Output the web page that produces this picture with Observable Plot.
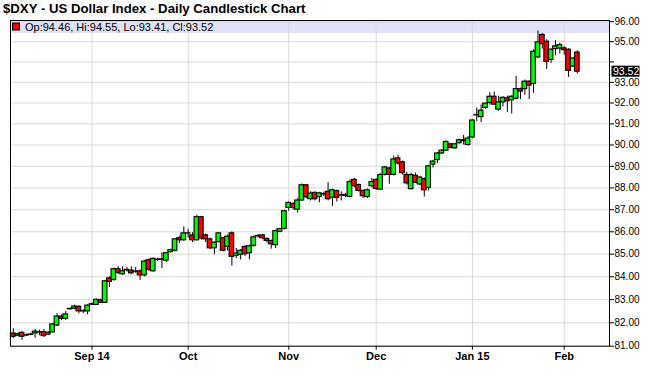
<!DOCTYPE html>
<html><head><meta charset="utf-8">
<script src="https://cdn.jsdelivr.net/npm/d3@7"></script>
<script src="https://cdn.jsdelivr.net/npm/@observablehq/plot@0.6"></script>
<style>
body{margin:0;background:#fff;font-family:"Liberation Sans",Arial,sans-serif;}
#title{height:16px;line-height:16px;padding:1px 0 0 3px;box-sizing:border-box;font-weight:bold;font-size:13.2px;color:#000;white-space:nowrap;overflow:visible;}
#chart svg g[aria-label="x-axis tick label"]{font-weight:bold;}
</style></head><body>
<div id="title"></div>
<div id="chart"></div>
<script>
const title = "$DXY - US Dollar Index - Daily Candlestick Chart";

const dates = [
"2014-08-06","2014-08-07","2014-08-08","2014-08-11","2014-08-12","2014-08-13","2014-08-14","2014-08-15","2014-08-18","2014-08-19",
"2014-08-20","2014-08-21","2014-08-22","2014-08-25","2014-08-26","2014-08-27","2014-08-28","2014-08-29",
"2014-09-01","2014-09-02","2014-09-03","2014-09-04","2014-09-05","2014-09-08","2014-09-09","2014-09-10","2014-09-11","2014-09-12",
"2014-09-15","2014-09-16","2014-09-17","2014-09-18","2014-09-19","2014-09-22","2014-09-23","2014-09-24","2014-09-25","2014-09-26",
"2014-09-29","2014-09-30",
"2014-10-01","2014-10-02","2014-10-03","2014-10-06","2014-10-07","2014-10-08","2014-10-09","2014-10-10","2014-10-13","2014-10-14",
"2014-10-15","2014-10-16","2014-10-17","2014-10-20","2014-10-21","2014-10-22","2014-10-23","2014-10-24","2014-10-27","2014-10-28",
"2014-10-29","2014-10-30","2014-10-31",
"2014-11-03","2014-11-04","2014-11-05","2014-11-06","2014-11-07","2014-11-10","2014-11-11","2014-11-12","2014-11-13","2014-11-14",
"2014-11-17","2014-11-18","2014-11-19","2014-11-20","2014-11-21","2014-11-24","2014-11-25","2014-11-26","2014-11-27","2014-11-28",
"2014-12-01","2014-12-02","2014-12-03","2014-12-04","2014-12-05","2014-12-08","2014-12-09","2014-12-10","2014-12-11","2014-12-12",
"2014-12-15","2014-12-16","2014-12-17","2014-12-18","2014-12-19","2014-12-22","2014-12-23","2014-12-24","2014-12-26","2014-12-29",
"2014-12-30","2014-12-31",
"2015-01-02","2015-01-05","2015-01-06","2015-01-07","2015-01-08","2015-01-09","2015-01-12","2015-01-13","2015-01-14","2015-01-15",
"2015-01-16","2015-01-19","2015-01-20","2015-01-21","2015-01-22","2015-01-23","2015-01-26","2015-01-27","2015-01-28","2015-01-29",
"2015-01-30",
"2015-02-02","2015-02-03","2015-02-04","2015-02-05"
];

const open = [
81.54,81.44,81.57,81.47,81.48,81.54,81.58,81.60,81.49,81.59,
81.88,82.26,82.17,82.58,82.61,82.69,82.49,82.49,
82.78,82.77,82.97,82.86,83.93,83.86,84.33,84.11,84.28,84.27,
84.22,84.24,84.06,84.73,84.24,84.74,84.75,84.71,85.09,85.15,
85.71,85.62,
85.93,85.84,85.62,86.66,85.84,85.66,85.26,85.54,85.71,85.32,
85.93,84.92,84.97,85.32,85.04,85.37,85.79,85.84,85.68,85.59,
85.40,86.00,86.13,
87.08,87.26,87.00,87.42,88.12,87.48,87.77,87.58,87.72,87.82,
87.55,87.85,87.66,87.63,87.58,88.37,88.13,87.86,87.58,88.08,
88.37,87.92,88.60,88.90,88.60,89.37,89.19,88.60,87.94,88.56,
88.16,88.41,88.00,89.08,89.29,89.60,89.73,90.03,89.84,90.08,
90.22,90.00,
90.35,91.40,91.32,91.76,92.00,92.30,91.68,92.03,92.22,92.13,
92.20,92.67,92.67,93.03,92.92,94.22,95.34,95.00,94.10,94.63,
94.66,
94.67,94.60,93.77,94.46
];
const high = [
81.74,81.56,81.62,81.52,81.55,81.71,81.68,81.71,81.62,81.97,
82.39,82.34,82.49,82.63,82.76,82.73,82.56,82.78,
82.85,83.03,83.02,83.84,84.00,84.38,84.45,84.44,84.41,84.44,
84.41,84.30,84.72,84.78,84.83,84.82,85.06,85.08,85.22,85.70,
85.81,86.22,
86.10,85.96,86.75,86.70,85.90,85.72,85.55,85.97,85.75,85.85,
86.00,85.25,85.20,85.38,85.40,85.80,85.88,85.88,85.72,85.62,
86.08,86.15,86.98,
87.36,87.32,87.50,88.18,88.15,87.82,87.82,87.80,87.80,88.24,
87.94,87.90,87.82,87.75,88.37,88.44,88.18,87.90,87.95,88.44,
88.42,88.65,89.00,88.95,89.48,89.52,89.25,88.71,88.68,88.68,
88.52,88.45,89.05,89.28,89.65,89.78,90.19,90.08,90.08,90.28,
90.45,90.40,
91.20,91.76,91.90,92.00,92.50,92.53,92.33,92.30,92.33,92.35,
93.29,92.72,93.11,93.08,94.60,95.53,95.40,95.10,94.65,95.05,
94.93,
94.75,94.65,94.20,94.55
];
const low = [
81.32,81.40,81.25,81.42,81.44,81.34,81.45,81.37,81.45,81.56,
81.84,82.10,82.10,82.55,82.56,82.39,82.40,82.34,
82.75,82.74,82.82,82.83,83.53,83.80,84.10,84.05,84.20,84.10,
84.15,83.84,84.00,84.25,84.20,84.68,84.36,84.62,85.05,85.10,
85.47,85.57,
85.72,85.52,85.58,85.62,85.52,85.20,84.97,85.50,85.10,85.15,
84.47,84.80,84.74,84.90,84.75,85.30,85.72,85.65,85.50,85.22,
85.25,85.95,86.08,
86.93,86.98,86.85,87.38,87.50,87.40,87.40,87.32,87.60,87.40,
87.15,87.35,87.40,87.55,87.55,88.00,87.80,87.51,87.52,88.00,
87.88,87.88,88.55,88.17,88.55,89.05,88.60,88.13,87.90,88.20,
88.10,87.58,87.86,88.92,89.13,89.55,89.70,89.82,89.80,90.05,
90.00,89.95,
90.30,91.11,91.06,91.70,91.90,91.88,91.60,91.81,91.55,91.47,
92.15,92.17,92.37,92.17,92.47,94.17,94.63,93.63,93.93,94.30,
94.38,
94.33,93.24,93.72,93.41
];
const close = [
81.40,81.51,81.40,81.45,81.50,81.62,81.59,81.43,81.57,81.93,
82.27,82.17,82.36,82.60,82.70,82.49,82.50,82.74,
82.80,82.99,82.86,83.80,83.77,84.33,84.17,84.24,84.30,84.15,
84.23,84.06,84.67,84.30,84.79,84.76,84.77,85.04,85.18,85.66,
85.62,85.93,
85.92,85.62,86.66,85.71,85.66,85.26,85.51,85.93,85.15,85.78,
84.88,85.02,85.15,85.00,85.35,85.75,85.81,85.71,85.59,85.44,
86.03,86.12,86.93,
87.31,87.08,87.42,88.12,87.57,87.74,87.48,87.75,87.70,87.48,
87.89,87.54,87.65,87.68,88.27,88.08,87.86,87.62,87.89,88.27,
87.95,88.60,88.95,88.60,89.32,89.13,88.68,88.21,88.59,88.24,
88.48,87.89,89.00,89.22,89.60,89.73,90.14,89.87,90.03,90.22,
90.18,90.30,
91.16,91.42,91.63,91.97,92.30,91.92,92.03,92.25,92.08,92.30,
92.67,92.55,93.03,92.84,94.50,94.97,94.88,94.00,94.60,94.77,
94.83,
94.58,93.56,94.17,93.52
];

const monthStarts = ["2014-09-01","2014-10-01","2014-11-03","2014-12-01","2015-01-02","2015-02-02"];
const monthLabels = ["Sep 14","Oct","Nov","Dec","Jan 15","Feb"];
const yTicks = [81,82,83,84,85,86,87,88,89,90,91,92,93,94,95,96];
const hiddenLabels = [94];

const UP = "#00f800", DOWN = "#f80000", GRID = "#d8d8d8";
const fmt = d3.format(".2f");

document.getElementById("title").textContent = title;

const candles = dates.map((d, i) => ({date: d, open: open[i], high: high[i], low: low[i], close: close[i]}));
const last = candles[candles.length - 1];

function legendBand(index, scales, values, dims) {
  const x0 = dims.marginLeft, x1 = dims.width - dims.marginRight, y0 = dims.marginTop;
  const g = d3.create("svg:g");
  g.append("rect").attr("x", x0).attr("y", y0).attr("width", x1 - x0).attr("height", 13).attr("fill", "#e1e1f9");
  return g.node();
}
function legendText(index, scales, values, dims) {
  const x0 = dims.marginLeft, y0 = dims.marginTop;
  const g = d3.create("svg:g");
  g.append("rect").attr("x", x0 + 2.5).attr("y", y0 + 3).attr("width", 7).attr("height", 7)
    .attr("fill", last.close >= last.open ? UP : DOWN).attr("stroke", "#000");
  g.append("text").attr("x", x0 + 15).attr("y", y0 + 10.5).attr("font-size", 11).attr("fill", "#000")
    .attr("text-anchor", "start")
    .text(`Op:${fmt(last.open)}, Hi:${fmt(last.high)}, Lo:${fmt(last.low)}, Cl:${fmt(last.close)}`);
  return g.node();
}
function lastPriceLabel(index, scales, values, dims) {
  const y = scales.y(last.close);
  const x = dims.width - dims.marginRight;
  const g = d3.create("svg:g");
  g.append("rect").attr("x", x + 2.5).attr("y", y - 5.5).attr("width", 28).attr("height", 11).attr("fill", "#000");
  g.append("text").attr("x", x + 4).attr("y", y).attr("dy", "0.36em").attr("font-size", 10.5).attr("fill", "#fff")
    .attr("text-anchor", "start").text(fmt(last.close));
  return g.node();
}

const chart = Plot.plot({
  width: 650, height: 370,
  marginLeft: 10, marginRight: 41, marginTop: 4, marginBottom: 40.3,
  style: {fontFamily: '"Liberation Sans", Arial, sans-serif', fontSize: "10px", color: "#000", background: "#fff", overflow: "visible"},
  x: {type: "band", domain: dates, padding: 0, insetLeft: 0.6, insetRight: 30},
  y: {type: "log", domain: [81, 96.06]},
  marks: [
    legendBand,
    Plot.ruleY(yTicks, {stroke: GRID}),
    Plot.ruleX(monthStarts, {stroke: GRID}),
    legendText,
    Plot.ruleX(candles, {x: "date", y1: "low", y2: "high", stroke: "#000"}),
    Plot.barY(candles, {x: "date", y1: "open", y2: "close", fill: d => d.close >= d.open ? UP : DOWN, stroke: "#000", strokeWidth: 1.1, insetLeft: -0.15, insetRight: -0.15}),
    Plot.frame({stroke: "#000"}),
    Plot.axisY(yTicks, {anchor: "right", label: null, tickSize: 4, tickPadding: 1, fontSize: 10, tickFormat: d => hiddenLabels.includes(d) ? "" : fmt(d)}),
    Plot.axisX(monthStarts, {anchor: "bottom", label: null, tickSize: 4, tickPadding: 2, fontSize: 11, fontWeight: "bold", tickFormat: d => monthLabels[monthStarts.indexOf(d)]}),
    lastPriceLabel
  ]
});
document.getElementById("chart").appendChild(chart);
</script>
</body></html>
